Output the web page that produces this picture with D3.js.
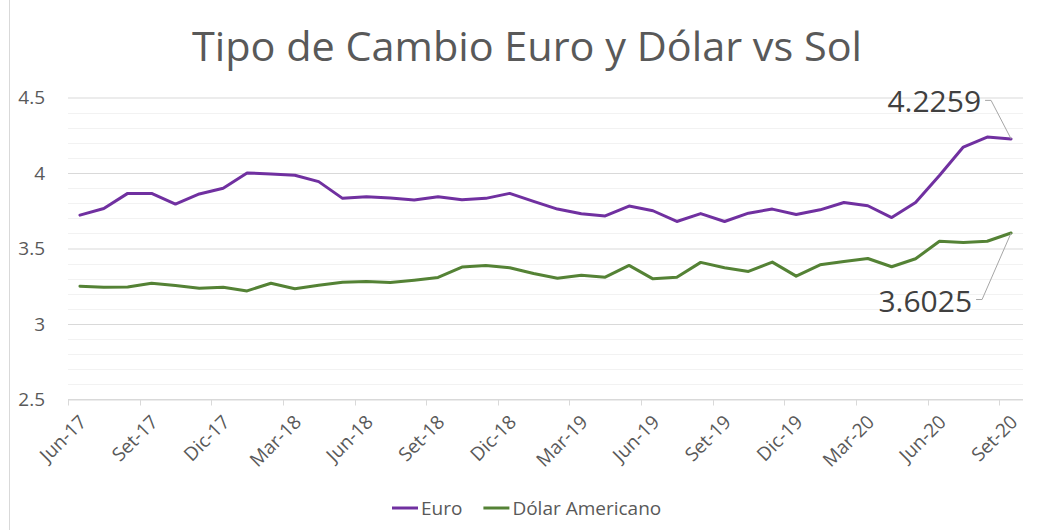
<!DOCTYPE html>
<html>
<head>
<meta charset="utf-8">
<script src="https://cdn.jsdelivr.net/npm/d3@7"></script>
<style>
  body { margin: 0; background: #fff; }
  svg { display: block; font-family: 'Open Sans', sans-serif; }
</style>
</head>
<body>
<div id="chart"></div>
<script>
const WIDTH = 1038
const HEIGHT = 530

// monthly categories (Spanish abbreviations, as in the source sheet)
const months = ['Jun-17','Jul-17','Ago-17','Set-17','Oct-17','Nov-17','Dic-17',
  'Ene-18','Feb-18','Mar-18','Abr-18','May-18','Jun-18','Jul-18','Ago-18','Set-18','Oct-18','Nov-18','Dic-18',
  'Ene-19','Feb-19','Mar-19','Abr-19','May-19','Jun-19','Jul-19','Ago-19','Set-19','Oct-19','Nov-19','Dic-19',
  'Ene-20','Feb-20','Mar-20','Abr-20','May-20','Jun-20','Jul-20','Ago-20','Set-20']

const euro = [3.721, 3.765, 3.865, 3.865, 3.794, 3.861, 3.899, 4.000, 3.994, 3.985,
  3.943, 3.832, 3.843, 3.834, 3.821, 3.843, 3.823, 3.832, 3.865, 3.812,
  3.761, 3.730, 3.716, 3.781, 3.750, 3.679, 3.731, 3.679, 3.734, 3.761,
  3.725, 3.756, 3.805, 3.783, 3.705, 3.805, 3.983, 4.172, 4.238, 4.2259]

const dolar = [3.250, 3.243, 3.245, 3.270, 3.255, 3.237, 3.243, 3.219, 3.270, 3.233,
  3.257, 3.277, 3.281, 3.275, 3.290, 3.308, 3.377, 3.388, 3.372, 3.334,
  3.303, 3.323, 3.310, 3.388, 3.299, 3.310, 3.408, 3.372, 3.348, 3.410,
  3.317, 3.392, 3.414, 3.434, 3.379, 3.432, 3.548, 3.539, 3.548, 3.6025]

const series = [
  { name: 'Euro', values: euro, color: '#7030a0' },
  { name: 'Dólar Americano', values: dolar, color: '#548235' }
]

const yTicks = [2.5, 3, 3.5, 4, 4.5]
const yDomain = [2.5, 4.5]
const TITLE = 'Tipo de Cambio Euro y Dólar vs Sol'

const PLOT = { left: 68, right: 1023, top: 97.5, bottom: 399.5 }

let svg = d3.select('#chart').append('svg')
  .attr('width', WIDTH)
  .attr('height', HEIGHT)

// chart area border (only the left edge is inside the crop)
svg.append('line')
  .attr('x1', 9.5).attr('x2', 9.5)
  .attr('y1', 0).attr('y2', HEIGHT)
  .attr('stroke', '#d9d9d9')

let x = d3.scaleBand()
  .domain(months)
  .range([PLOT.left, PLOT.right])
  .padding(0)
let cx = (m) => x(m) + x.bandwidth() / 2

let y = d3.scaleLinear()
  .domain(yDomain)
  .range([PLOT.bottom, PLOT.top])

// gridlines: minor every 0.1, major every 0.5
let minor = d3.range(26, 46).map((d) => d / 10).filter((d) => Math.round(d * 10) % 5 !== 0)
svg.append('g')
  .selectAll('line')
  .data(minor)
  .enter().append('line')
    .attr('x1', PLOT.left).attr('x2', PLOT.right)
    .attr('y1', (d) => Math.round(y(d)) + 0.5)
    .attr('y2', (d) => Math.round(y(d)) + 0.5)
    .attr('stroke', '#f2f2f2')

let yAxis = d3.axisLeft(y)
  .tickValues(yTicks)
  .tickSize(-(PLOT.right - PLOT.left))
  .tickPadding(23)
  .tickFormat(d3.format('~g'))

let gy = svg.append('g')
  .attr('transform', 'translate(' + PLOT.left + ',0)')
  .call(yAxis)
gy.select('.domain').remove()
gy.selectAll('.tick line').attr('stroke', '#d9d9d9')
gy.selectAll('.tick text')
  .attr('fill', '#595959')
  .attr('font-size', 19)
  .attr('font-family', 'Open Sans')

// x axis with tick marks on category boundaries, labels on category centres
let xa = svg.append('g')
xa.append('line')
  .attr('x1', PLOT.left).attr('x2', PLOT.right)
  .attr('y1', PLOT.bottom).attr('y2', PLOT.bottom)
  .attr('stroke', '#d9d9d9')

let shown = months.filter((d, i) => i % 3 === 0)

xa.selectAll('.xtick')
  .data(shown)
  .enter().append('line')
    .attr('class', 'xtick')
    .attr('x1', (d) => Math.round(x(d)) + 0.5)
    .attr('x2', (d) => Math.round(x(d)) + 0.5)
    .attr('y1', PLOT.bottom)
    .attr('y2', PLOT.bottom + 6)
    .attr('stroke', '#d9d9d9')

xa.selectAll('.xlabel')
  .data(shown)
  .enter().append('text')
    .attr('class', 'xlabel')
    .attr('transform', (d) => 'translate(' + (cx(d) + 3) + ',' + (PLOT.bottom + 19) + ') rotate(-45)')
    .attr('text-anchor', 'end')
    .attr('dy', '0.35em')
    .attr('fill', '#595959')
    .attr('font-size', 19)
    .text((d) => d)

// lines
let line = d3.line()
  .x((d, i) => cx(months[i]))
  .y((d) => y(d))

svg.append('g')
  .selectAll('path')
  .data(series)
  .enter().append('path')
    .attr('d', (d) => line(d.values))
    .attr('fill', 'none')
    .attr('stroke', (d) => d.color)
    .attr('stroke-width', 3)
    .attr('stroke-linejoin', 'round')
    .attr('stroke-linecap', 'round')

// data labels for the last point, with leader lines
let last = months[months.length - 1]
let labels = [
  { value: euro[euro.length - 1], text: '4.2259', dx: -26, dy: -38.5 },
  { value: dolar[dolar.length - 1], text: '3.6025', dx: -35, dy: 66.5 }
]

let dl = svg.append('g').selectAll('g')
  .data(labels)
  .enter().append('g')

dl.append('path')
  .attr('d', (d) => {
    let px = cx(last), py = y(d.value)
    let lx = px + d.dx, ly = py + d.dy
    return 'M' + lx + ',' + ly + 'H' + (lx + 6) + 'L' + px + ',' + py
  })
  .attr('fill', 'none')
  .attr('stroke', '#a6a6a6')
  .attr('stroke-width', 1)

dl.append('text')
  .attr('x', (d) => cx(last) + d.dx - 4)
  .attr('y', (d) => y(d.value) + d.dy + 12)
  .attr('text-anchor', 'end')
  .attr('fill', '#404040')
  .attr('font-size', 30)
  .text((d) => d.text)

// title
svg.append('text')
  .attr('x', 192)
  .attr('y', 61)
  .attr('fill', '#595959')
  .attr('font-size', 40)
  .attr('textLength', 670)
  .attr('lengthAdjust', 'spacingAndGlyphs')
  .text(TITLE)

// legend
let legend = svg.append('g')
  .attr('transform', 'translate(392,508)')

let lx = 0
series.forEach((s) => {
  let item = legend.append('g').attr('transform', 'translate(' + lx + ',0)')
  item.append('line')
    .attr('x1', 0).attr('x2', 26)
    .attr('y1', 0).attr('y2', 0)
    .attr('stroke', s.color)
    .attr('stroke-width', 3)
  let t = item.append('text')
    .attr('x', 29)
    .attr('dy', '0.36em')
    .attr('fill', '#595959')
    .attr('font-size', 19)
    .text(s.name)
  lx += 29 + t.node().getComputedTextLength() + 21
})
</script>
</body>
</html>
